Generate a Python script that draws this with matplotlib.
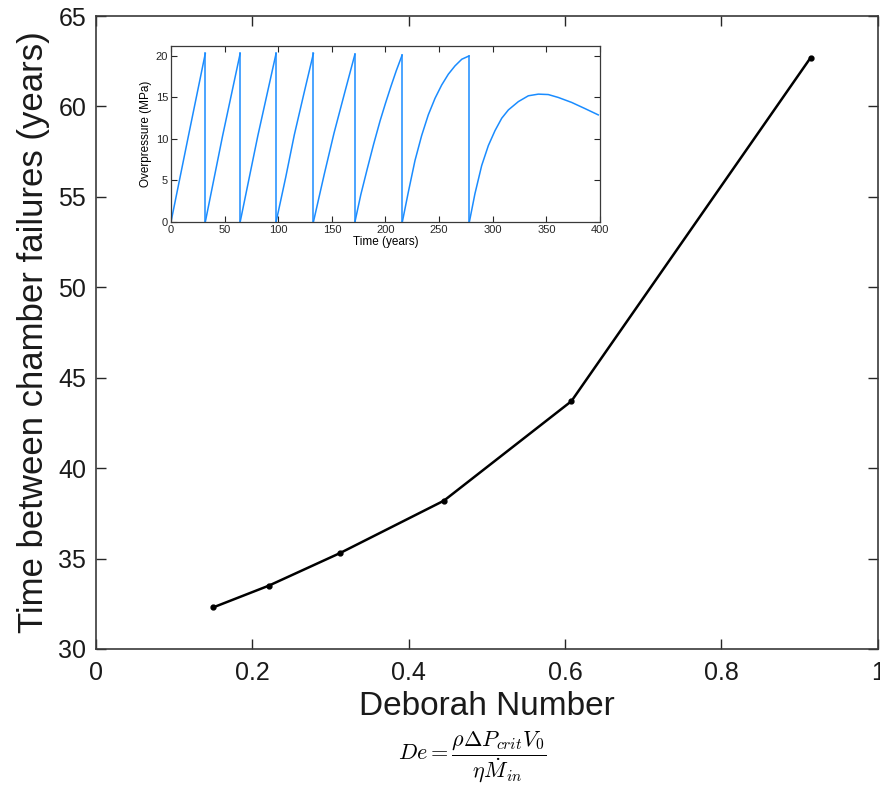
import matplotlib
matplotlib.use("Agg")
import matplotlib.pyplot as plt
import numpy as np

plt.rcParams['font.family'] = ['Liberation Sans', 'DejaVu Sans']
plt.rcParams['mathtext.fontset'] = 'cm'

# main curve: Deborah number vs time between failures
deborah = [0.150, 0.221, 0.312, 0.445, 0.608, 0.914]
failure_interval = [32.3, 33.5, 35.3, 38.2, 43.7, 62.7]

# inset: overpressure history, one list per loading cycle
cycle_t = [
    [0, 16, 32],
    [32, 48, 64.5],
    [64.5, 81, 98],
    [98, 107, 115, 124, 132.8],
    [132.8, 143, 152, 162, 171.5],
    [171.5, 177, 183, 189, 195, 200, 205, 210, 215.5],
    [215.7, 221.3, 227.5, 233.7, 239.9, 246.2, 252.4, 258.6, 264.8, 271.1, 277.9],
    [278.2, 283.4, 289.7, 295.9, 302.1, 308.4, 314.6, 323.9, 333.2, 342.5,
     351.8, 361.1, 373.6, 386.0, 398.4],
]
cycle_p = [
    [0, 10.2, 20.3],
    [0, 10.3, 20.3],
    [0, 10.4, 20.3],
    [0, 5.4, 10.5, 15.5, 20.3],
    [0, 5.8, 10.7, 15.6, 20.2],
    [0, 3.3, 6.4, 9.4, 12.2, 14.3, 16.3, 18.2, 20.1],
    [0, 3.6, 7.4, 10.4, 12.9, 14.9, 16.5, 17.8, 18.8, 19.6, 20.0],
    [0, 3.4, 6.8, 9.2, 11.0, 12.5, 13.5, 14.5, 15.2, 15.4,
     15.35, 15.0, 14.4, 13.66, 12.9],
]

fig = plt.figure(figsize=(8.8, 7.9), dpi=100)
ax = fig.add_axes([0.109, 0.1785, 0.8886, 0.8012])
ax.plot(deborah, failure_interval, color='black', lw=1.8,
        marker='o', ms=3.5)
ax.set_xlim(0, 1)
ax.set_ylim(30, 65)
ax.set_xticks([0, 0.2, 0.4, 0.6, 0.8, 1])
ax.set_xticklabels(['0', '0.2', '0.4', '0.6', '0.8', '1'])
ax.set_yticks(np.arange(30, 66, 5))
ax.tick_params(direction='in', top=True, right=True, labelsize=18,
               length=7, width=1, colors='#262626', labelcolor='#1a1a1a')
ax.tick_params(axis='x', pad=9)
ax.tick_params(axis='y', pad=7)
for s in ax.spines.values():
    s.set_color('#3a3a3a')
    s.set_linewidth(1.2)
ax.set_xlabel('Deborah Number', fontsize=24, color='#1a1a1a', labelpad=4)
ax.set_ylabel('Time between chamber failures (years)', fontsize=25,
              color='#1a1a1a', labelpad=6)

fig.text(0.536, 0.042, r'$De = \dfrac{\rho \Delta P_{crit} V_0}{\eta \dot{M}_{in}}$',
         ha='center', va='center', fontsize=16)

# inset
ins = fig.add_axes([0.1943, 0.719, 0.4875, 0.2228])
for i in range(len(cycle_t)):
    t = cycle_t[i]
    p = cycle_p[i]
    ins.plot(t, p, color='#1a8cff', lw=1.1)
    if i < len(cycle_t) - 1:
        ins.plot([t[-1], t[-1]], [p[-1], 0], color='#1a8cff', lw=1.1)
ins.set_xlim(0, 400)
ins.set_ylim(0, 21.2)
ins.set_xticks(np.arange(0, 401, 50))
ins.set_yticks([0, 5, 10, 15, 20])
ins.tick_params(direction='in', top=True, right=True, labelsize=8,
                length=4, width=0.8, pad=2, colors='#262626')
for s in ins.spines.values():
    s.set_color('#3a3a3a')
    s.set_linewidth(0.9)
ins.set_xlabel('Time (years)', fontsize=8.5, labelpad=1)
ins.set_ylabel('Overpressure (MPa)', fontsize=8.5, labelpad=3)

fig.savefig('out.png', dpi=100)
